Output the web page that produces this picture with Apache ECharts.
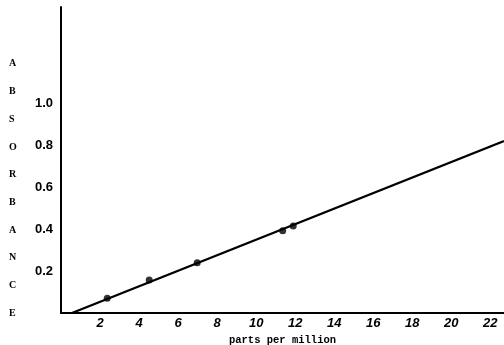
<!DOCTYPE html>
<html><head><meta charset="utf-8">
<script src="https://cdn.jsdelivr.net/npm/echarts@6/dist/echarts.min.js"></script>
<style>html,body{margin:0;padding:0;background:#fff}#c{width:504px;height:345px}</style>
</head><body><div id="c"></div>
<script>
// measured points (ppm, absorbance)
var ppm = [2.37, 4.52, 6.98, 11.36, 11.9];
var absorbance = [0.07, 0.157, 0.24, 0.393, 0.415];
// fitted calibration line endpoints
var fitPpm = [0.56, 22.7];
var fitAbs = [0, 0.82];
var xTicks = [2, 4, 6, 8, 10, 12, 14, 16, 18, 20, 22];
var yTicks = [0.2, 0.4, 0.6, 0.8, 1.0];
var yTitle = "ABSORBANCE";
var xTitle = "parts per million";

var chart = echarts.init(document.getElementById('c'));
chart.setOption({
  animation: false,
  backgroundColor: '#fff',
  grid: {left: 61, right: 0, top: 7, bottom: 32, outerBoundsMode: 'none', containLabel: false},
  xAxis: {
    type: 'value', min: 0, max: 22.7, interval: 2,
    splitLine: {show: false},
    axisLine: {lineStyle: {color: '#000', width: 2}},
    axisTick: {show: false},
    axisLabel: {
      color: '#000', fontSize: 13, fontWeight: 'bold', fontStyle: 'italic',
      fontFamily: 'Liberation Sans', margin: 4,
      showMaxLabel: false, showMinLabel: false,
      formatter: function (v) { return xTicks.indexOf(Math.round(v)) >= 0 && Math.abs(v - Math.round(v)) < 1e-6 ? String(Math.round(v)) : ''; }
    },
    name: xTitle, nameLocation: 'middle', nameGap: 21,
    nameTextStyle: {color: '#000', fontSize: 10.5, fontWeight: 'bold', fontFamily: 'Liberation Mono'}
  },
  yAxis: {
    type: 'value', min: 0, max: 1.46, interval: 0.2,
    splitLine: {show: false},
    axisLine: {lineStyle: {color: '#000', width: 2}},
    axisTick: {show: false},
    axisLabel: {
      color: '#000', fontSize: 13, fontWeight: 'bold', fontFamily: 'Liberation Sans', margin: 8,
      showMaxLabel: false,
      formatter: function (v) {
        for (var i = 0; i < yTicks.length; i++) if (Math.abs(v - yTicks[i]) < 1e-6) return yTicks[i].toFixed(1);
        return '';
      }
    }
  },
  graphic: [{
    type: 'text', left: 9, top: 50,
    style: {text: yTitle.split('').join('\n'), fill: '#000', font: 'bold 10px "Liberation Serif"', lineHeight: 27.7, textAlign: 'left'}
  }],
  series: [
    {type: 'line', data: fitPpm.map(function (x, i) { return [x, fitAbs[i]]; }),
     showSymbol: false, lineStyle: {color: '#000', width: 2.2}, silent: true},
    {type: 'scatter', data: ppm.map(function (x, i) { return [x, absorbance[i]]; }),
     symbolSize: 7, itemStyle: {color: '#000'}}
  ]
});
</script></body></html>
